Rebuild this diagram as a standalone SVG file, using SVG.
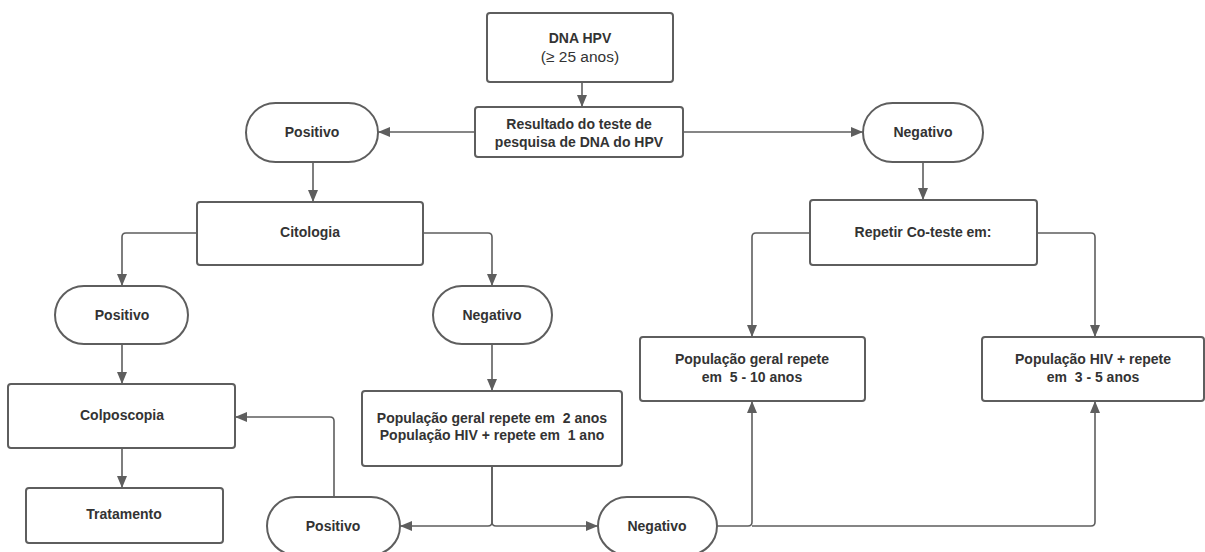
<svg xmlns="http://www.w3.org/2000/svg" width="1205" height="552" viewBox="0 0 1205 552">
  <defs>
    <style>
      .box { fill: #ffffff; stroke: #5e5e5e; stroke-width: 2; }
      .lbl { font-family: "Liberation Sans", Arial, sans-serif; font-size: 14px; font-weight: bold; fill: #333333; text-anchor: middle; white-space: pre; }
      .reg { font-weight: normal; font-size: 15.5px; }
      .edge { fill: none; stroke: #5e5e5e; stroke-width: 1.6; }
    </style>
    <marker id="arrow" viewBox="0 0 12 10" refX="12" refY="5" markerWidth="12" markerHeight="10" markerUnits="userSpaceOnUse" orient="auto">
      <path d="M0 0 L12 5 L0 10 Z" fill="#5e5e5e"/>
    </marker>
  </defs>

  <rect width="1205" height="552" fill="#ffffff"/>

  <!-- connectors -->
  <g id="connectors" class="edge" marker-end="url(#arrow)">
    <path d="M582 82 V107"/>
    <path d="M475 132 H378"/>
    <path d="M683 132 H863"/>
    <path d="M313 162 V202"/>
    <path d="M923 162 V200"/>
    <path d="M197 233 H126 Q122 233 122 237 V286"/>
    <path d="M423 233 H488 Q492 233 492 237 V286"/>
    <path d="M810 233 H756 Q752 233 752 237 V337"/>
    <path d="M1037 233 H1091 Q1095 233 1095 237 V337"/>
    <path d="M122 344 V384"/>
    <path d="M122 448 V488"/>
    <path d="M492 344 V391"/>
    <path d="M492 466 V522 Q492 526 488 526 H400"/>
    <path d="M492 466 V522 Q492 526 496 526 H598"/>
    <path d="M334 498 V421 Q334 417 330 417 H235"/>
    <path d="M717 526 H748 Q752 526 752 522 V401"/>
    <path d="M752 526 H1091 Q1095 526 1095 522 V401"/>
  </g>

  <!-- nodes -->
  <g id="dna-hpv">
    <rect class="box" x="487" y="13" width="186" height="69" rx="3"/>
    <text class="lbl" x="580" y="43">DNA HPV</text>
    <text class="lbl reg" x="580" y="62">(≥ 25 anos)</text>
  </g>

  <g id="resultado">
    <rect class="box" x="475" y="107" width="208" height="50" rx="3"/>
    <text class="lbl" x="579" y="129">Resultado do teste de</text>
    <text class="lbl" x="579" y="147">pesquisa de DNA do HPV</text>
  </g>

  <g id="positivo-1">
    <rect class="box" x="246" y="103" width="132" height="59" rx="29.5"/>
    <text class="lbl" x="312" y="137">Positivo</text>
  </g>

  <g id="negativo-1">
    <rect class="box" x="863" y="103" width="120" height="59" rx="29.5"/>
    <text class="lbl" x="923" y="137">Negativo</text>
  </g>

  <g id="citologia">
    <rect class="box" x="197" y="202" width="226" height="63" rx="3"/>
    <text class="lbl" x="310" y="237">Citologia</text>
  </g>

  <g id="repetir">
    <rect class="box" x="810" y="200" width="227" height="65" rx="3"/>
    <text class="lbl" x="923" y="237">Repetir Co-teste em:</text>
  </g>

  <g id="positivo-2">
    <rect class="box" x="55" y="286" width="133" height="58" rx="29"/>
    <text class="lbl" x="122" y="320">Positivo</text>
  </g>

  <g id="negativo-2">
    <rect class="box" x="433" y="286" width="119" height="58" rx="29"/>
    <text class="lbl" x="492" y="320">Negativo</text>
  </g>

  <g id="pop-geral">
    <rect class="box" x="640" y="337" width="225" height="64" rx="3"/>
    <text class="lbl" x="752" y="364">População geral repete</text>
    <text class="lbl" x="752" y="382">em  5 - 10 anos</text>
  </g>

  <g id="pop-hiv">
    <rect class="box" x="982" y="337" width="222" height="64" rx="3"/>
    <text class="lbl" x="1093" y="364">População HIV + repete</text>
    <text class="lbl" x="1093" y="382">em  3 - 5 anos</text>
  </g>

  <g id="colposcopia">
    <rect class="box" x="8" y="384" width="227" height="64" rx="3"/>
    <text class="lbl" x="122" y="420">Colposcopia</text>
  </g>

  <g id="repete-anos">
    <rect class="box" x="362" y="391" width="260" height="75" rx="3"/>
    <text class="lbl" x="492" y="423">População geral repete em  2 anos</text>
    <text class="lbl" x="492" y="440">População HIV + repete em  1 ano</text>
  </g>

  <g id="tratamento">
    <rect class="box" x="26" y="488" width="197" height="55" rx="3"/>
    <text class="lbl" x="124" y="519">Tratamento</text>
  </g>

  <g id="positivo-3">
    <rect class="box" x="267" y="497" width="133" height="58" rx="29"/>
    <text class="lbl" x="333" y="531">Positivo</text>
  </g>

  <g id="negativo-3">
    <rect class="box" x="598" y="497" width="119" height="58" rx="29"/>
    <text class="lbl" x="657" y="531">Negativo</text>
  </g>
</svg>
